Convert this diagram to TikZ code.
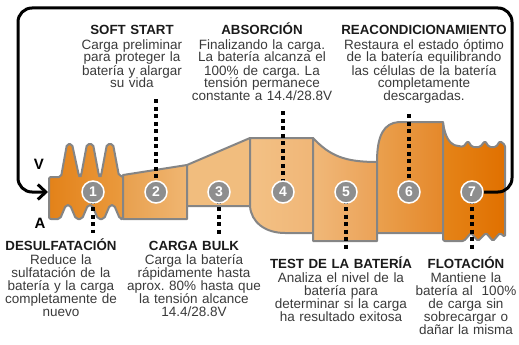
\documentclass[tikz,border=0pt]{standalone}
\usepackage{fontspec}
\setmainfont{Liberation Sans}
\usetikzlibrary{arrows.meta}
\frenchspacing
\definecolor{bordo}{HTML}{858585}
\definecolor{scritta}{HTML}{3A3A3A}
\definecolor{titolo}{HTML}{1A1A1A}
\definecolor{cerchio}{HTML}{8E8E8E}
\definecolor{oraA}{HTML}{E38219}\definecolor{oraB}{HTML}{EA9A3E}
\definecolor{orbA}{HTML}{E8A04E}\definecolor{orbB}{HTML}{F0B672}
\definecolor{orcA}{HTML}{F1BD7E}\definecolor{orcB}{HTML}{F6CD99}
\definecolor{ordA}{HTML}{F3C185}\definecolor{ordB}{HTML}{F0B677}
\definecolor{oreA}{HTML}{F0B879}\definecolor{oreB}{HTML}{EBA257}
\definecolor{orfA}{HTML}{EAA04E}\definecolor{orfB}{HTML}{E5882A}
\definecolor{orgA}{HTML}{E58418}\definecolor{orgB}{HTML}{E07000}
\newcommand{\titolo}[1]{{\bfseries\fontsize{13.3}{13}\selectfont\color{titolo}#1}}

\begin{document}
\begin{tikzpicture}[x=1pt,y=-1pt]
\tikzstyle{sagoma} = [line width=2pt, draw=bordo, line join=round]
\tikzstyle{fase} = [circle, fill=cerchio, draw=white, line width=1.5pt, minimum size=22pt, inner sep=0pt, text=white, font=\bfseries\fontsize{14}{14}\selectfont]
\tikzstyle{punti} = [line width=3.2pt, dash pattern=on 4pt off 3.5pt]
\tikzstyle{testo} = [align=center, text width=180pt, inner sep=0pt, anchor=base, text=scritta, font=\fontsize{13.5}{13}\selectfont]
\tikzstyle{freccia} = [line width=3pt, rounded corners=14pt, -{Straight Barb[length=8pt,width=15pt]}]
\useasboundingbox (0,0) rectangle (519,345);
% forma del ciclo di carica
\path[sagoma, rounded corners=2pt, left color=oraA, right color=oraB] (49,177) -- (61,177) -- (67,144) -- (72,144) -- (79,176) -- (81,176) -- (87,144) -- (93,144) -- (99,176) -- (101,176) -- (107,144) -- (113,144) -- (119,176) -- (123,176) -- (123,219) -- (120,219) -- (114,205) -- (110,205) -- (104,219) -- (98,219) -- (92,205) -- (88,205) -- (82,219) -- (76,219) -- (70,205) -- (66,205) -- (60,219) -- (49,219) -- cycle;
\path[sagoma, left color=orbA, right color=orbB] (123,175) -- (187,165) -- (187,219) -- (123,219) -- cycle;
\path[sagoma, left color=orcA, middle color=orcB, right color=orcA] (187,165) -- (250,138) -- (250,206) -- (187,206) -- cycle;
\path[sagoma, left color=ordA, right color=ordB] (250,138) -- (313,138) -- (313,233) -- (285,233) .. controls (265,233) and (251,222) .. (250,206) -- cycle;
\path[sagoma, left color=oreA, right color=oreB] (313,138) .. controls (330,156) and (345,162) .. (377,162) -- (377,241) -- (313,241) -- cycle;
\path[sagoma, left color=orfA, right color=orfB] (377,233) -- (377,162) .. controls (377,135) and (384,123) .. (399,122) -- (443,122) -- (443,233) -- cycle;
\path[sagoma, rounded corners=1.5pt, left color=orgA, right color=orgB] (443,122) .. controls (445,137) and (450,145) .. (459,146) -- (463,147) -- (468,141) -- (472,147) -- (480,147) -- (485,141) -- (489,147) -- (496,147) -- (500,141) -- (505,145) -- (505,237) -- (500,233) -- (493,241) -- (486,233) -- (478,241) -- (471,233) -- (464,241) -- (443,241) -- cycle;

\node[font=\bfseries\fontsize{15}{15}\selectfont] (lv) at (39,164) {V};
\node[font=\bfseries\fontsize{15}{15}\selectfont] (la) at (40,223) {A};

\node[testo] (t2) at (132,35) {\titolo{SOFT START}\\[1pt] Carga preliminar\\ para proteger la\\ batería y alargar\\ su vida};
\node[testo] (t4) at (262,35) {\titolo{ABSORCIÓN}\\[1pt] Finalizando la carga.\\ La batería alcanza el\\ 100\% de carga. La\\ tensión permanece\\ constante a 14.4/28.8V};
\node[testo] (t6) at (424,35) {\titolo{REACONDICIONAMIENTO}\\[1pt] Restaura el estado óptimo\\ de la batería equilibrando\\ las células de la batería\\ completamente\\ descargadas.};
\node[testo] (t1) at (61,250) {\titolo{DESULFATACIÓN}\\[1pt] Reduce la\\ sulfatación de la\\ batería y la carga\\ completamente de\\ nuevo};
\node[testo] (t3) at (194,250) {\titolo{CARGA BULK}\\[1pt] Carga la batería\\ rápidamente hasta\\ aprox. 80\% hasta que\\ la tensión alcance\\ 14.4/28.8V};
\node[testo] (t5) at (341,268) {\titolo{TEST DE LA BATERÍA}\\[1pt] Analiza el nivel de la\\ batería para\\ determinar si la carga\\ ha resultado exitosa};
\node[testo] (t7) at (466,268) {\titolo{FLOTACIÓN}\\[1pt] Mantiene la\\ batería al\ \ 100\%\\ de carga sin\\ sobrecargar o\\ dañar la misma};

\coordinate (f1) at (93,192);
\coordinate (f2) at (156,192);
\coordinate (f3) at (219,192);
\coordinate (f4) at (283,192);
\coordinate (f5) at (346,192);
\coordinate (f6) at (409,192);
\coordinate (f7) at (472,192);
\draw[punti, shorten <=11pt] (f2 |- t2.south) -- (f2);
\draw[punti, shorten <=10pt] (f4 |- t4.south) -- (f4);
\draw[punti, shorten <=10pt] (f6 |- t6.south) -- (f6);
\draw[punti, shorten >=5pt] (f1) -- (f1 |- t1.north);
\draw[punti, shorten >=7pt] (f3) -- (f3 |- t3.north);
\draw[punti, shorten >=5pt] (f5) -- (f5 |- t5.north);
\draw[punti, shorten >=5pt] (f7) -- (f7 |- t7.north);

\node[fase] (v1) at (f1) {1};
\node[fase] (v2) at (f2) {2};
\node[fase] (v3) at (f3) {3};
\node[fase] (v4) at (f4) {4};
\node[fase] (v5) at (f5) {5};
\node[fase] (v6) at (f6) {6};
\node[fase] (v7) at (f7) {7};

\coordinate (ad) at (512,8);
\coordinate (as) at (18,8);
\coordinate (punta) at (48,192);
\draw[freccia] (v7.east) -| (ad) -- (as) |- (punta);
\end{tikzpicture}
\end{document}
